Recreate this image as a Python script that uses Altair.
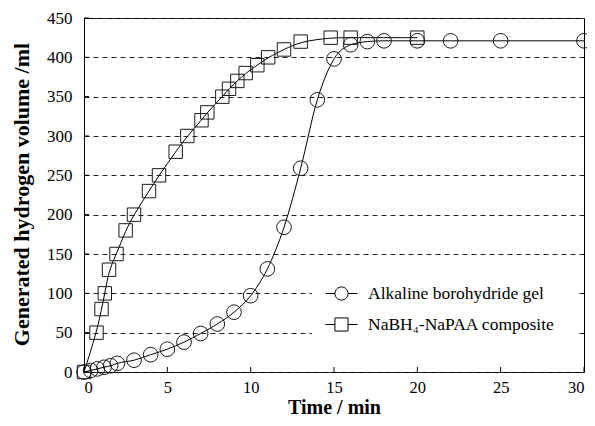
import altair as alt
import pandas as pd

series_names = ["Alkaline borohydride gel", "NaBH₄-NaPAA composite"]

alk_t = [0, 0.4, 0.8, 1.2, 1.6, 2, 3, 4, 5, 6, 7, 8, 9, 10, 11, 12, 13, 14, 15, 16, 17, 18, 20, 22, 25, 30]
alk_v = [0, 2, 4, 6, 8, 11, 15, 22, 29, 38, 49, 61, 76, 97, 131, 184, 259, 346, 398, 416, 420, 421, 421, 421, 421, 421]

comp_t = [0, 0.75, 1.05, 1.25, 1.5, 1.95, 2.5, 3, 3.9, 4.5, 5.5, 6.2, 7.05, 7.4, 8.3, 8.7, 9.2, 9.7, 10.4, 11.05, 12, 13, 14.8, 16, 20]
comp_v = [0, 50, 80, 100, 130, 150, 180, 200, 230, 250, 280, 300, 320, 330, 350, 360, 370, 380, 390, 400, 410, 420, 425, 425, 425]

x_ticks = [0, 5, 10, 15, 20, 25, 30]
y_ticks = [0, 50, 100, 150, 200, 250, 300, 350, 400, 450]

df = pd.concat([
    pd.DataFrame({"t": alk_t, "v": alk_v, "series": series_names[0]}),
    pd.DataFrame({"t": comp_t, "v": comp_v, "series": series_names[1]}),
], ignore_index=True)

FONT = "Liberation Serif"
W, H = 500, 354

x_enc = alt.X(
    "t:Q",
    title="Time / min",
    scale=alt.Scale(domain=[0, 30], nice=False, zero=False),
    axis=alt.Axis(values=x_ticks, grid=False, ticks=False, tickSize=0, domain=False,
                  labelPadding=7, labelFont=FONT, labelFontSize=16.5, labelColor="black",
                  titleFont=FONT, titleFontSize=20, titleFontWeight="bold", titleColor="black",
                  titleBaseline="alphabetic", titleY=41),
)
y_enc = alt.Y(
    "v:Q",
    title="Generated hydrogen volume /ml",
    scale=alt.Scale(domain=[0, 450], nice=False, zero=False),
    axis=alt.Axis(values=y_ticks, grid=True, gridDash=[5, 4], gridColor="#222222", gridWidth=1,
                  ticks=False, tickSize=0, domain=False,
                  labelPadding=12, labelFont=FONT, labelFontSize=17, labelColor="black",
                  titleFont=FONT, titleFontSize=22, titleFontWeight="bold", titleColor="black",
                  titleX=-56, titleY=176, titleBaseline="alphabetic"),
)

circ_path = "M-1,0H-0.41M0.41,0H1M-0.41,0A0.41,0.41,0,1,1,0.41,0A0.41,0.41,0,1,1,-0.41,0Z"
sq_path = "M-1,0H-0.41M0.41,0H1M-0.41,-0.41H0.41V0.41H-0.41Z"

legend = alt.Legend(
    title=None, orient="none", legendX=233, legendY=251, padding=8,
    fillColor="white", labelFont=FONT, labelFontSize=17.5, labelColor="black",
    labelLimit=400, labelOffset=10, rowPadding=5, symbolSize=1024, symbolStrokeWidth=1,
    symbolStrokeColor="black", symbolFillColor="white", symbolOpacity=1, zindex=5,
)

base = alt.Chart(df)

# white panel behind the legend (covers the dashed grid there)
legend_bg = alt.Chart(pd.DataFrame({"k": [0]})).mark_rect(color="white").encode(
    x=alt.value(228), x2=alt.value(492), y=alt.value(245), y2=alt.value(326))

line_alk = base.transform_filter(alt.datum.series == series_names[0]).mark_line(
    color="black", strokeWidth=1, interpolate="monotone").encode(x=x_enc, y=y_enc)
line_comp = base.transform_filter(alt.datum.series == series_names[1]).mark_line(
    color="black", strokeWidth=1, interpolate="basis").encode(x=x_enc, y=y_enc)

points = base.mark_point(filled=False, color="#1a1a1a", strokeWidth=1, opacity=1).encode(
    x=x_enc, y=y_enc,
    shape=alt.Shape("series:N", scale=alt.Scale(domain=series_names, range=["circle", "square"]), legend=None),
    size=alt.Size("series:N", scale=alt.Scale(domain=series_names, range=[215, 180]), legend=None),
)

# legend-only layer (no rows drawn), carrying the line+marker legend symbols
legend_layer = base.transform_filter("false").mark_point(
    filled=False, color="black", strokeWidth=1, opacity=1, size=1024).encode(
    x=x_enc, y=y_enc,
    shape=alt.Shape("series:N", scale=alt.Scale(domain=series_names, range=[circ_path, sq_path]), legend=legend),
)

xt = alt.Chart(pd.DataFrame({"t": x_ticks})).mark_rule(color="black", strokeWidth=1).encode(
    x=x_enc, y=alt.value(H), y2=alt.value(H - 5))
yt = alt.Chart(pd.DataFrame({"v": y_ticks})).mark_rule(color="black", strokeWidth=1).encode(
    y=y_enc, x=alt.value(0), x2=alt.value(5))

chart = alt.layer(legend_bg, line_alk, line_comp, points, legend_layer, xt, yt).resolve_scale(
    shape="independent", size="independent"
).properties(
    width=W, height=H,
    autosize=alt.AutoSizeParams(type="none"),
    padding={"left": 76, "top": 10, "right": 3, "bottom": 46},
    background="white",
).configure_view(stroke="black", strokeWidth=1)

chart.save("out.html", embed_options={"renderer": "svg", "actions": False})
